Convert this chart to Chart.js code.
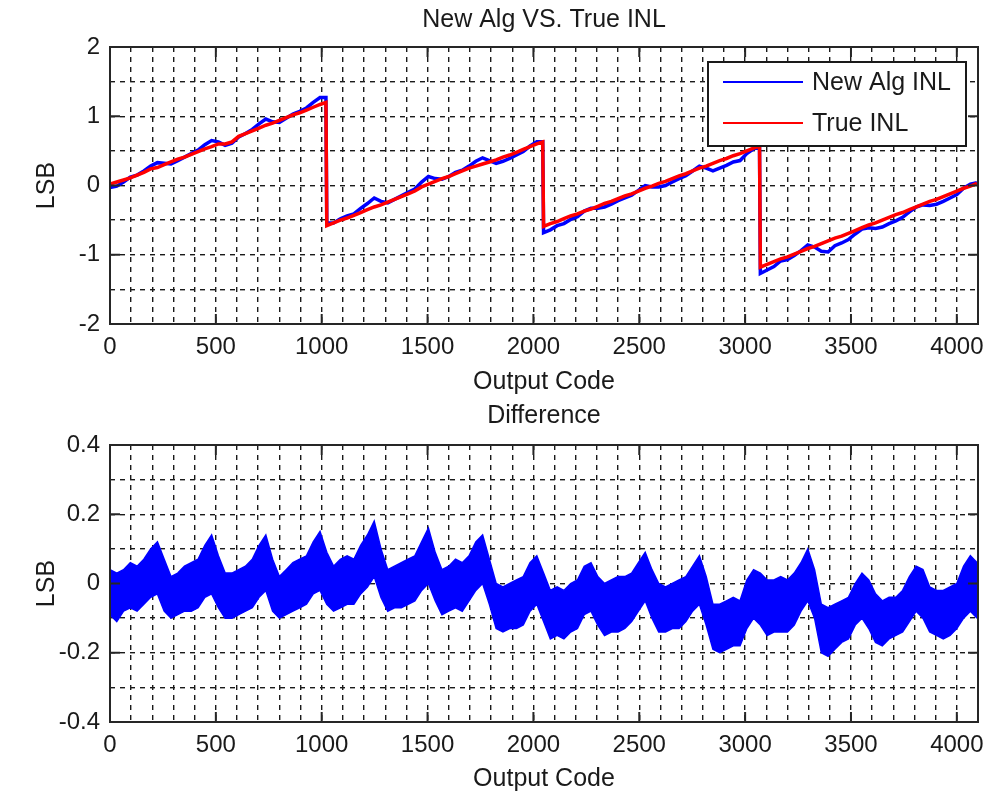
<!DOCTYPE html>
<html>
<head>
<meta charset="utf-8">
<script src="https://cdn.jsdelivr.net/npm/chart.js@4.4.0/dist/chart.umd.min.js"></script>
<style>
  html, body { margin: 0; padding: 0; background: #fff; }
  .box { position: absolute; left: 0; width: 987px; height: 397px; }
  #top { top: 0; }
  #bottom { top: 397px; }
</style>
</head>
<body>
<div class="box" id="top"><canvas id="inlChart"></canvas></div>
<div class="box" id="bottom"><canvas id="diffChart"></canvas></div>
<script>
const FONT = "'Liberation Sans', Arial, Helvetica, sans-serif";
const TEXT = "#1a1a1a";

// INL curves read every 32 codes inside each 1024-code segment, plus the last code before the jump
const inlStep = 32;
const segmentStarts = [0, 1024, 2048, 3072];
const segmentEnds = [1020, 2044, 3068, 4095];

const trueInl = [
  0.02, 0.05, 0.08, 0.11, 0.15, 0.19, 0.24, 0.26, 0.30, 0.34, 0.38, 0.41, 0.45, 0.49, 0.53, 0.56,
  0.60, 0.60, 0.63, 0.71, 0.75, 0.79, 0.83, 0.87, 0.90, 0.94, 0.98, 1.02, 1.05, 1.09, 1.13, 1.17, 1.20,
  -0.58, -0.54, -0.50, -0.47, -0.43, -0.39, -0.35, -0.31, -0.28, -0.24, -0.20, -0.16, -0.12, -0.08, -0.02, 0.02,
  0.06, 0.10, 0.13, 0.17, 0.21, 0.25, 0.28, 0.31, 0.34, 0.37, 0.41, 0.44, 0.48, 0.52, 0.56, 0.60, 0.63,
  -0.59, -0.55, -0.52, -0.48, -0.44, -0.41, -0.37, -0.34, -0.30, -0.26, -0.23, -0.19, -0.15, -0.12, -0.08, -0.04,
  -0.01, 0.03, 0.06, 0.10, 0.14, 0.17, 0.21, 0.25, 0.28, 0.32, 0.36, 0.39, 0.43, 0.46, 0.50, 0.54, 0.57,
  -1.18, -1.14, -1.10, -1.06, -1.03, -0.99, -0.95, -0.91, -0.88, -0.84, -0.80, -0.76, -0.73, -0.69, -0.65, -0.61,
  -0.57, -0.54, -0.50, -0.46, -0.42, -0.39, -0.35, -0.31, -0.27, -0.23, -0.20, -0.16, -0.12, -0.08, -0.04, -0.01, 0.03
];

const newAlgInl = [
  -0.03, -0.01, 0.05, 0.12, 0.15, 0.21, 0.28, 0.33, 0.32, 0.31, 0.36, 0.41, 0.46, 0.51, 0.59, 0.65,
  0.63, 0.58, 0.61, 0.70, 0.75, 0.81, 0.89, 0.96, 0.92, 0.91, 0.97, 1.03, 1.07, 1.12, 1.20, 1.27, 1.27,
  -0.54, -0.54, -0.48, -0.44, -0.41, -0.33, -0.26, -0.18, -0.23, -0.25, -0.20, -0.15, -0.10, -0.05, 0.05, 0.13,
  0.10, 0.09, 0.13, 0.19, 0.22, 0.28, 0.35, 0.40, 0.36, 0.32, 0.35, 0.39, 0.44, 0.49, 0.57, 0.63, 0.63,
  -0.68, -0.64, -0.58, -0.55, -0.49, -0.45, -0.37, -0.33, -0.33, -0.31, -0.27, -0.22, -0.18, -0.14, -0.07, 0.00,
  -0.02, -0.02, 0.00, 0.05, 0.10, 0.14, 0.21, 0.28, 0.25, 0.21, 0.25, 0.29, 0.34, 0.36, 0.46, 0.53, 0.55,
  -1.27, -1.22, -1.17, -1.09, -1.07, -1.01, -0.94, -0.86, -0.89, -0.95, -0.96, -0.87, -0.83, -0.78, -0.70, -0.63,
  -0.61, -0.62, -0.60, -0.55, -0.51, -0.46, -0.38, -0.31, -0.28, -0.29, -0.27, -0.23, -0.18, -0.13, -0.04, 0.02, 0.04
];

// difference plot: top and bottom of the noisy band, one value every 32 codes (0..4096)
const diffStep = 32;
const diffHigh = [
  0.04, 0.03, 0.04, 0.06, 0.05, 0.07, 0.10, 0.12, 0.07, 0.02, 0.03, 0.05, 0.06, 0.07, 0.11, 0.14,
  0.08, 0.03, 0.03, 0.04, 0.05, 0.07, 0.11, 0.14, 0.07, 0.02, 0.04, 0.06, 0.07, 0.08, 0.12, 0.15,
  0.09, 0.05, 0.07, 0.08, 0.07, 0.11, 0.14, 0.18, 0.10, 0.04, 0.05, 0.06, 0.07, 0.08, 0.12, 0.16,
  0.09, 0.04, 0.05, 0.07, 0.06, 0.08, 0.12, 0.14, 0.07, 0.00, -0.01, 0.00, 0.01, 0.02, 0.06, 0.08,
  0.03, -0.02, -0.01, -0.02, 0.00, 0.01, 0.05, 0.06, 0.02, 0.00, 0.01, 0.02, 0.02, 0.03, 0.06, 0.09,
  0.04, 0.00, -0.01, 0.00, 0.01, 0.02, 0.05, 0.08, 0.02, -0.06, -0.06, -0.05, -0.04, -0.05, 0.01, 0.04,
  0.03, 0.01, 0.01, 0.02, 0.01, 0.03, 0.06, 0.10, 0.04, -0.06, -0.07, -0.06, -0.05, -0.04, 0.00, 0.03,
  0.01, -0.03, -0.05, -0.04, -0.04, -0.02, 0.02, 0.05, 0.04, -0.01, -0.02, -0.02, -0.01, 0.00, 0.05, 0.08,
  0.06
];
const diffLow = [
  -0.09, -0.11, -0.08, -0.07, -0.08, -0.06, -0.04, -0.03, -0.08, -0.10, -0.09, -0.08, -0.08, -0.07, -0.04, -0.03,
  -0.07, -0.10, -0.10, -0.09, -0.08, -0.07, -0.04, -0.02, -0.08, -0.10, -0.09, -0.08, -0.07, -0.06, -0.03, -0.02,
  -0.06, -0.08, -0.07, -0.06, -0.06, -0.03, -0.01, 0.02, -0.04, -0.08, -0.07, -0.07, -0.06, -0.05, -0.02, 0.00,
  -0.05, -0.09, -0.08, -0.07, -0.08, -0.05, -0.02, 0.00, -0.06, -0.13, -0.14, -0.13, -0.13, -0.12, -0.08, -0.06,
  -0.11, -0.16, -0.15, -0.16, -0.14, -0.13, -0.09, -0.08, -0.12, -0.15, -0.14, -0.14, -0.13, -0.11, -0.08, -0.05,
  -0.10, -0.14, -0.14, -0.13, -0.13, -0.11, -0.08, -0.06, -0.12, -0.19, -0.20, -0.19, -0.18, -0.18, -0.13, -0.10,
  -0.12, -0.15, -0.14, -0.14, -0.14, -0.12, -0.08, -0.05, -0.10, -0.20, -0.21, -0.19, -0.17, -0.16, -0.12, -0.10,
  -0.13, -0.17, -0.18, -0.16, -0.15, -0.14, -0.11, -0.08, -0.10, -0.14, -0.15, -0.16, -0.15, -0.13, -0.10, -0.08,
  -0.10
];

const inlYTicks = [-2, -1, 0, 1, 2];
const diffYTicks = [-0.4, -0.2, 0, 0.2, 0.4];
const xTickLabels = [0, 500, 1000, 1500, 2000, 2500, 3000, 3500, 4000];

function isIn(list, v) {
  return list.some((t) => Math.abs(t - v) < 1e-6);
}

// sample codes for the INL arrays: 32 per segment plus the segment's last code
const inlCodes = [];
segmentStarts.forEach((start, s) => {
  for (let k = 0; k < 1024 / inlStep; k++) inlCodes.push(start + k * inlStep);
  inlCodes.push(segmentEnds[s]);
});

// MATLAB look: black frame, short inward ticks, boxed legend inside the axes
const matlabAxes = {
  id: "matlabAxes",
  afterDatasetsDraw(chart, args, opts) {
    const { ctx, chartArea: a, scales } = chart;
    const x = scales.x;
    const y = scales.y;
    ctx.save();
    ctx.strokeStyle = "#262626";
    ctx.lineWidth = 2;
    ctx.beginPath();
    xTickLabels.forEach((v) => {
      const px = x.getPixelForValue(v);
      ctx.moveTo(px, a.bottom); ctx.lineTo(px, a.bottom - 10);
      ctx.moveTo(px, a.top); ctx.lineTo(px, a.top + 10);
    });
    opts.yTicks.forEach((v) => {
      const py = y.getPixelForValue(v);
      ctx.moveTo(a.left, py); ctx.lineTo(a.left + 10, py);
      ctx.moveTo(a.right, py); ctx.lineTo(a.right - 10, py);
    });
    ctx.stroke();
    ctx.strokeRect(a.left, a.top, a.right - a.left, a.bottom - a.top);

    if (opts.legend) {
      const w = 258, h = 84;
      const bx = a.right - 12 - w, by = a.top + 15;
      ctx.fillStyle = "#fff";
      ctx.fillRect(bx, by, w, h);
      ctx.strokeStyle = "#1a1a1a";
      ctx.strokeRect(bx, by, w, h);
      ctx.font = "25px " + FONT;
      ctx.textBaseline = "middle";
      const order = [1, 0];
      order.forEach((di, row) => {
        const ds = chart.data.datasets[di];
        const ly = by + 20 + row * 41;
        ctx.strokeStyle = ds.borderColor;
        ctx.lineWidth = 2;
        ctx.beginPath();
        ctx.moveTo(bx + 15, ly); ctx.lineTo(bx + 95, ly);
        ctx.stroke();
        ctx.fillStyle = TEXT;
        ctx.fillText(ds.label, bx + 104, ly + 1);
      });
    }
    ctx.restore();
  }
};

const gridOpts = { color: "#1a1a1a", lineWidth: 1.4, drawTicks: false };
const borderOpts = { display: false, dash: [5, 5] };

function xAxis(height) {
  return {
    type: "linear",
    min: 0,
    max: 4100,
    afterFit: (scale) => { scale.height = height; },
    grid: gridOpts,
    border: borderOpts,
    ticks: {
      stepSize: 100,
      autoSkip: false,
      maxRotation: 0,
      padding: 9,
      color: TEXT,
      font: { size: 24, family: FONT },
      callback: (v) => (isIn(xTickLabels, v) ? String(v) : "")
    },
    title: {
      display: true,
      text: "Output Code",
      color: TEXT,
      font: { size: 25, family: FONT },
      padding: { top: 0, bottom: 0 }
    }
  };
}

function yAxis(min, max, step, labels) {
  return {
    min: min,
    max: max,
    afterFit: (scale) => { scale.width = 110; },
    grid: gridOpts,
    border: borderOpts,
    ticks: {
      stepSize: step,
      autoSkip: false,
      padding: 10,
      color: TEXT,
      font: { size: 24, family: FONT },
      callback: (v) => {
        if (!isIn(labels, v)) return "";
        const r = Math.round(v * 10) / 10;
        return String(r);
      }
    },
    title: {
      display: true,
      text: "LSB",
      color: TEXT,
      font: { size: 25, family: FONT },
      padding: { top: 32, bottom: 0 }
    }
  };
}

function titleOpts(text, top, bottom) {
  return {
    display: true,
    text: text,
    fullSize: false,
    color: TEXT,
    font: { size: 25, family: FONT, weight: "normal" },
    padding: { top: top, bottom: bottom }
  };
}

const inlPoints = (vals) => inlCodes.map((c, i) => ({ x: c, y: vals[i] }));

new Chart(document.getElementById("inlChart"), {
  type: "line",
  data: {
    datasets: [
      {
        label: "True INL",
        data: inlPoints(trueInl),
        borderColor: "#ff0000",
        borderWidth: 3.5,
        pointRadius: 0,
        order: 0
      },
      {
        label: "New Alg INL",
        data: inlPoints(newAlgInl),
        borderColor: "#0000ff",
        borderWidth: 3.5,
        pointRadius: 0,
        order: 1
      }
    ]
  },
  options: {
    responsive: true,
    maintainAspectRatio: false,
    animation: false,
    devicePixelRatio: 1,
    layout: { padding: { left: 0, right: 9, top: 0, bottom: 0 } },
    scales: {
      x: xAxis(73),
      y: yAxis(-2, 2, 0.5, inlYTicks)
    },
    plugins: {
      legend: { display: false },
      tooltip: { enabled: false },
      title: titleOpts("New Alg VS. True INL", 5, 12),
      matlabAxes: { yTicks: inlYTicks, legend: true }
    }
  },
  plugins: [matlabAxes]
});

const diffPoints = (vals) => vals.map((v, i) => ({ x: i * diffStep, y: v }));

new Chart(document.getElementById("diffChart"), {
  type: "line",
  data: {
    datasets: [
      {
        label: "Difference",
        data: diffPoints(diffHigh),
        borderColor: "#0000ff",
        backgroundColor: "#0000ff",
        borderWidth: 1.5,
        pointRadius: 0,
        fill: "+1"
      },
      {
        label: "Difference low",
        data: diffPoints(diffLow),
        borderColor: "#0000ff",
        borderWidth: 1.5,
        pointRadius: 0,
        fill: false
      }
    ]
  },
  options: {
    responsive: true,
    maintainAspectRatio: false,
    animation: false,
    devicePixelRatio: 1,
    layout: { padding: { left: 0, right: 9, top: 0, bottom: 0 } },
    scales: {
      x: xAxis(72),
      y: yAxis(-0.4, 0.4, 0.1, diffYTicks)
    },
    plugins: {
      legend: { display: false },
      tooltip: { enabled: false },
      title: titleOpts("Difference", 4, 14),
      filler: { propagate: false },
      matlabAxes: { yTicks: diffYTicks, legend: false }
    }
  },
  plugins: [matlabAxes]
});
</script>
</body>
</html>
